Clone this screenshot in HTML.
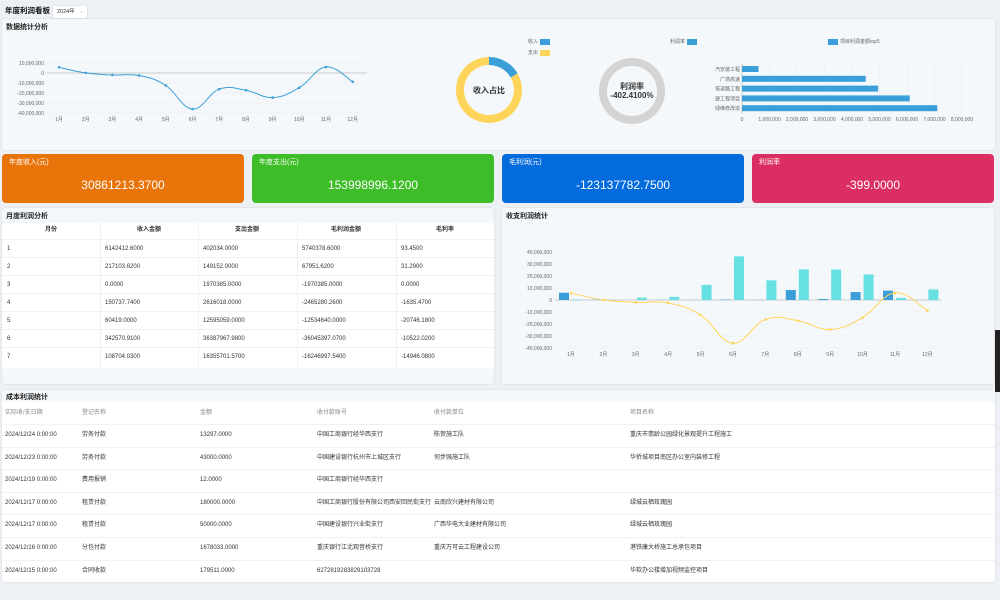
<!DOCTYPE html>
<html><head><meta charset="utf-8">
<style>
*{margin:0;padding:0;box-sizing:border-box}
body{width:1000px;height:600px;background:#edf0f4;font-family:"Liberation Sans","Noto Sans CJK SC",sans-serif;position:relative;overflow:hidden;color:#333}
.abs{position:absolute}
.panel{position:absolute;background:#f5f8fb;border-radius:3px;box-shadow:0 0 2px rgba(0,0,0,.12)}
.ttl{position:absolute;font-size:7px;line-height:9px;font-weight:bold;color:#222}
.card{position:absolute;top:154px;width:242px;height:49px;border-radius:4px;color:#fff}
.card .t{position:absolute;left:7px;top:4px;font-size:7px;line-height:9px}
.card .v{position:absolute;left:0;right:0;top:24px;text-align:center;font-size:12px;line-height:14px}
.tb{position:absolute;font-size:6px;line-height:8px;height:8px;color:#333;white-space:nowrap}
svg text{font-family:"Liberation Sans","Noto Sans CJK SC",sans-serif}
</style></head><body>
<div class="abs" style="left:5px;top:6px;font-size:7.5px;line-height:10px;font-weight:bold;color:#111">年度利润看板</div>
<div class="abs" style="left:52px;top:5px;width:36px;height:14px;background:#fff;border:1px solid #e3e6ea;border-radius:2px;font-size:5.5px;line-height:12px;padding-left:4px">2024年 <span style="color:#aaa;margin-left:3px">⌄</span></div>

<div class="panel" style="left:2px;top:19px;width:993px;height:131px"></div>
<div class="ttl" style="left:6px;top:23px">数据统计分析</div>

<div class="card" style="left:2px;background:#e8740a"><div class="t">年度收入(元)</div><div class="v">30861213.3700</div></div>
<div class="card" style="left:252px;background:#3dbd27"><div class="t">年度支出(元)</div><div class="v">153998996.1200</div></div>
<div class="card" style="left:502px;background:#036bdb"><div class="t">毛利润(元)</div><div class="v">-123137782.7500</div></div>
<div class="card" style="left:752px;background:#db2f63"><div class="t">利润率</div><div class="v">-399.0000</div></div>

<div class="panel" style="left:2px;top:208px;width:492px;height:176px"></div>
<div class="ttl" style="left:6px;top:212px">月度利润分析</div>
<div class="panel" style="left:502px;top:208px;width:492px;height:176px"></div>
<div class="ttl" style="left:506px;top:212px">收支利润统计</div>

<div class="panel" style="left:2px;top:390px;width:993px;height:192px;background:#fff"></div>
<div class="abs" style="left:2px;top:390px;width:993px;height:12px;background:#f5f8fb"></div>
<div class="ttl" style="left:6px;top:393px">成本利润统计</div>
<div class="abs" style="left:995px;top:330px;width:5px;height:62px;background:#222"></div>

<div id="tables"></div>
<svg id="s" class="abs" style="left:0;top:0" width="1000" height="600"></svg>

<script>
var s=document.getElementById('s'),h='';
function T(x,y,t,o){o=o||{};h+='<text x="'+x+'" y="'+y+'" font-size="'+(o.fs||5.5)+'" fill="'+(o.c||'#666')+'" text-anchor="'+(o.a||'start')+'"'+(o.fw?' font-weight="bold"':'')+'>'+t+'</text>';}
function L(x1,y1,x2,y2,c,w){h+='<line x1="'+x1+'" y1="'+y1+'" x2="'+x2+'" y2="'+y2+'" stroke="'+c+'" stroke-width="'+(w||0.6)+'"/>';}
function R(x,y,w,hh,c){h+='<rect x="'+x+'" y="'+y+'" width="'+w+'" height="'+hh+'" fill="'+c+'"/>';}
function smooth(p){var d='M'+p[0][0]+','+p[0][1];for(var i=0;i<p.length-1;i++){var p0=p[i-1]||p[i],p1=p[i],p2=p[i+1],p3=p[i+2]||p2,k=0.2;d+=' C'+(p1[0]+(p2[0]-p0[0])*k)+','+(p1[1]+(p2[1]-p0[1])*k)+' '+(p2[0]-(p3[0]-p1[0])*k)+','+(p2[1]-(p3[1]-p1[1])*k)+' '+p2[0]+','+p2[1];}return d;}
var mon=['1月','2月','3月','4月','5月','6月','7月','8月','9月','10月','11月','12月'];
var prof=[5.74,0.07,-1.97,-2.47,-12.5,-36.0,-16.2,-17.2,-24.6,-14.7,6.0,-8.8];
var yl=['10,000,000','0','-10,000,000','-20,000,000','-30,000,000','-40,000,000'];
for(var i=0;i<6;i++){var y=63+i*10;L(47,y,367,y,i==1?'#bbb':'#e6e9ee',i==1?0.8:0.5);T(44,y+2,yl[i],{a:'end',fs:5});}
var p=[];for(i=0;i<12;i++){var x=59+i*26.7;p.push([x,73-prof[i]]);T(x,121,mon[i],{a:'middle',fs:5});}
h+='<path d="'+smooth(p)+'" fill="none" stroke="#3a9fd8" stroke-width="1"/>';
p.forEach(function(q){h+='<circle cx="'+q[0]+'" cy="'+q[1]+'" r="1.3" fill="#3a9fd8"/>';});
function arc(cx,cy,r,a0,a1){var x0=cx+r*Math.sin(a0),y0=cy-r*Math.cos(a0),x1=cx+r*Math.sin(a1),y1=cy-r*Math.cos(a1);return 'M'+x0+','+y0+' A'+r+','+r+' 0 '+((a1-a0)>Math.PI?1:0)+' 1 '+x1+','+y1;}
var a=2*Math.PI*0.167;
h+='<path d="'+arc(489,90,29,0,a)+'" fill="none" stroke="#3a9fd8" stroke-width="8"/>';
h+='<path d="'+arc(489,90,29,a,2*Math.PI-0.0001)+'" fill="none" stroke="#fed55a" stroke-width="8"/>';
T(489,93,'收入占比',{a:'middle',fs:8,c:'#333',fw:1});
T(538,43,'收入',{a:'end',fs:5});R(540,39,10,6,'#3a9fd8');
T(538,54,'支出',{a:'end',fs:5});R(540,50,10,6,'#fed55a');
h+='<circle cx="632" cy="91" r="29" fill="none" stroke="#d4d4d4" stroke-width="8"/>';
T(632,89,'利润率',{a:'middle',fs:8,c:'#333',fw:1});T(632,98,'-402.4100%',{a:'middle',fs:8,c:'#333',fw:1});
T(685,43,'利润率',{a:'end',fs:5});R(687,39,10,6,'#3a9fd8');
R(828,39,10,6,'#3a9fd8');T(840,43,'项目利润金额top5',{fs:5});
for(i=0;i<=8;i++){var x=742+i*27.5;L(x,64,x,114,'#e6e9ee',0.5);T(x,121,i==0?'0':(i+',000,000'),{a:'middle',fs:5});}
L(742,64,742,114,'#bbb',0.7);
var bv=[0.6,4.5,4.95,6.1,7.1],bl=['汽安装工程','广场高速','塔道路工程','建工程项目','绿维修改造'];
for(i=0;i<5;i++){var y=66+i*9.8;R(742,y,bv[i]*27.5,6,'#3a9fd8');T(740,y+5,bl[i],{a:'end',fs:5});}
var y2=['40,000,000','30,000,000','20,000,000','10,000,000','0','-10,000,000','-20,000,000','-30,000,000','-40,000,000'];
for(i=0;i<9;i++){var y=252+i*12;L(555,y,942,y,i==4?'#bbb':'#e6e9ee',i==4?0.8:0.5);T(552,y+2,y2[i],{a:'end',fs:5});}
var inc=[6.1,0.2,0,0.15,0.06,0.34,0.1,8.3,0.8,6.6,7.8,0.05],exp=[0.4,0.15,1.97,2.6,12.6,36.4,16.4,25.5,25.4,21.3,1.8,8.8];
p=[];for(i=0;i<12;i++){var c=571+i*32.4;R(c-12,300-inc[i]*1.2,10,inc[i]*1.2,'#3a9fd8');R(c+1,300-exp[i]*1.2,10,exp[i]*1.2,'#66e0e2');T(c,356,mon[i],{a:'middle',fs:5});p.push([c,300-prof[i]*1.2]);}
h+='<path d="'+smooth(p)+'" fill="none" stroke="#fed55a" stroke-width="1"/>';
p.forEach(function(q){h+='<circle cx="'+q[0]+'" cy="'+q[1]+'" r="1.3" fill="#fed55a"/>';});
s.innerHTML=h;
var t='';
var cx=[2,100,198,297,396,494];
t+='<div class="abs" style="left:2px;top:223px;width:492px;height:145px;background:#fff"></div>';
for(i=1;i<5;i++)t+='<div class="abs" style="left:'+cx[i]+'px;top:223px;width:1px;height:145px;background:#eef0f3"></div>';
var hd=['月份','收入金额','支出金额','毛利润金额','毛利率'];
for(i=0;i<5;i++)t+='<div class="tb" style="left:'+cx[i]+'px;width:98px;text-align:center;top:226px;font-weight:bold">'+hd[i]+'</div>';
var rows=[['1','6142412.6000','402034.0000','5740378.6000','93.4500'],['2','217103.6200','149152.0000','67951.6200','31.2900'],['3','0.0000','1970385.0000','-1970385.0000','0.0000'],['4','150737.7400','2616018.0000','-2465280.2600','-1635.4700'],['5','60419.0000','12595059.0000','-12534640.0000','-20746.1800'],['6','342570.9100','36387967.9800','-36045397.0700','-10522.0200'],['7','108704.0300','16355701.5700','-16246997.5400','-14946.0800']];
for(var r=0;r<7;r++){var y=240+r*18;t+='<div class="abs" style="left:2px;top:'+(y-1)+'px;width:492px;height:1px;background:#eef0f3"></div>';for(i=0;i<5;i++)t+='<div class="tb" style="left:'+(cx[i]+5)+'px;top:'+(y+5)+'px">'+rows[r][i]+'</div>';}
var bx=[5,82,200,317,434,630];
var bh=['实际收/支日期','登记名称','金额','收付款账号','收付款单位','项目名称'];
for(i=0;i<6;i++)t+='<div class="tb" style="left:'+bx[i]+'px;top:409px;color:#888">'+bh[i]+'</div>';
var br=[['2024/12/24 0:00:00','劳务付款','13297.0000','中国工商银行经华西支行','陈贺施工队','重庆市翡龄公园绿化景观提升工程施工'],['2024/12/23 0:00:00','劳务付款','43000.0000','中国建设银行杭州市上城区支行','何步强施工队','华侨城项目南区办公室内装修工程'],['2024/12/19 0:00:00','费用报销','12.0000','中国工商银行经华西支行','',''],['2024/12/17 0:00:00','租赁付款','180000.0000','中国工商银行股份有限公司西安回民街支行','云南欣兴建材有限公司','绿城云栖玫瑰园'],['2024/12/17 0:00:00','租赁付款','50000.0000','中国建设银行兴业街支行','广西华电大业建材有限公司','绿城云栖玫瑰园'],['2024/12/16 0:00:00','分包付款','1678033.0000','重庆银行江北观音桥支行','重庆万可云工程建设公司','港铁康大桥施工总承包项目'],['2024/12/15 0:00:00','合同收款','179511.0000','6272819283829103728','','华软办公楼增加视频监控项目']];
for(r=0;r<7;r++){var y=424+r*22.6;t+='<div class="abs" style="left:2px;top:'+y+'px;width:993px;height:1px;background:#f0f1f3"></div>';for(i=0;i<6;i++)t+='<div class="tb" style="left:'+bx[i]+'px;top:'+(y+7)+'px">'+br[r][i]+'</div>';}
document.getElementById('tables').innerHTML=t;
</script>
</body></html>
